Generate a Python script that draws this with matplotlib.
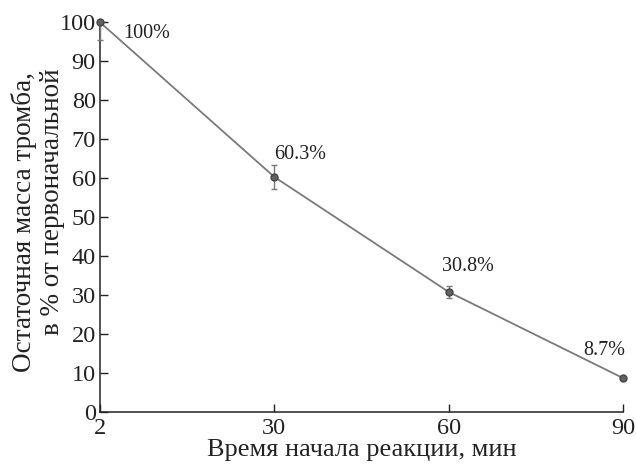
import matplotlib
matplotlib.use('Agg')
import matplotlib.pyplot as plt

# данные
vremya = ['2', '30', '60', '90']
massa = [100, 60.3, 30.8, 8.7]
err_niz = [4.5, 3.0, 1.5, 0.0]
err_verh = [0.0, 3.0, 1.5, 0.0]
podpisi = ['100%', '60.3%', '30.8%', '8.7%']
y_ticks = [0, 10, 20, 30, 40, 50, 60, 70, 80, 90, 100]

plt.rcParams['font.family'] = ['Liberation Serif', 'DejaVu Serif']

fig = plt.figure(figsize=(6.36, 4.71), dpi=100)
ax = fig.add_axes([0.157, 0.125, 0.823, 0.828])

pos = list(range(len(vremya)))
ax.plot(pos, massa, color='#7a7a7a', lw=1.3, zorder=2)
ax.errorbar(pos, massa, yerr=[err_niz, err_verh], fmt='o', color='#555555',
            ms=5, mfc='#606060', mec='#444444', ecolor='#777777',
            elinewidth=1.0, capsize=2.5, capthick=1.0, zorder=3, clip_on=False)

# подписи значений
smesch = [(0.27, -3), (0.15, 5.8), (0.11, 6.5), (-0.11, 7.0)]
for x, y, t, (dx, dy) in zip(pos, massa, podpisi, smesch):
    ax.text(x + dx, y + dy, t, fontsize=14.5, ha='center', va='center',
            color='#222222')

ax.set_xlim(0, 3)
ax.set_ylim(0, 100)
ax.set_xticks(pos)
ax.set_xticklabels(vremya)
ax.set_yticks(y_ticks)
ax.spines['top'].set_visible(False)
ax.spines['right'].set_visible(False)
for s in ['left', 'bottom']:
    ax.spines[s].set_linewidth(1.1)
    ax.spines[s].set_color('#222222')
ax.tick_params(direction='in', length=6, width=1.0, labelsize=17.5,
               colors='#222222', pad=3)
ax.tick_params(axis='x', pad=4)

ax.set_xlabel('Время начала реакции, мин', fontsize=19, labelpad=0,
              color='#222222')
fig.text(0.037, 1 - 222 / 471, 'Остаточная масса тромба,', rotation=90,
         fontsize=19.5, ha='center', va='center', color='#222222')
fig.text(0.083, 1 - 202 / 471, 'в % от первоначальной', rotation=90,
         fontsize=19.5, ha='center', va='center', color='#222222')

fig.savefig('out.png', dpi=100)
